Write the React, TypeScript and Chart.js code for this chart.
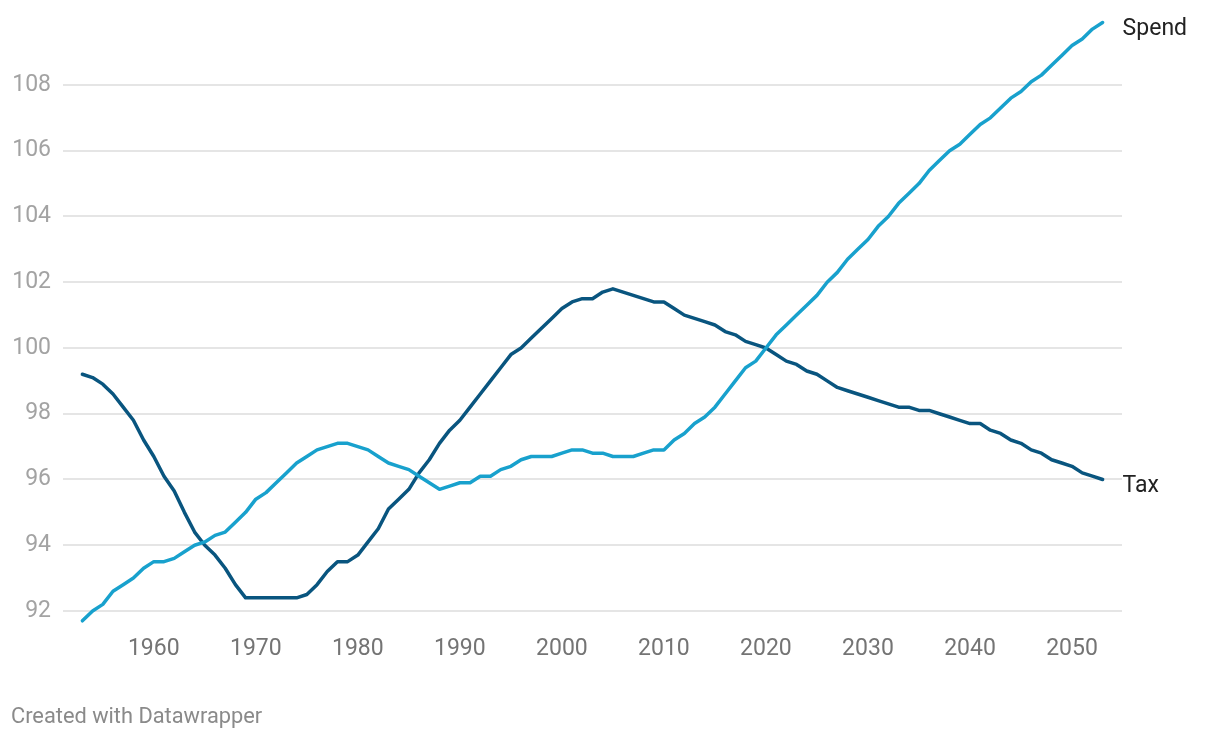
import React, { useEffect, useRef } from "react";
import { Chart, registerables } from "chart.js";

Chart.register(...registerables);

const years: number[] = Array.from({ length: 101 }, (_, i) => 1953 + i);

const spend: number[] = [
  91.7, 92.0, 92.2, 92.6, 92.8, 93.0, 93.3, 93.5, 93.5, 93.6,
  93.8, 94.0, 94.1, 94.3, 94.4, 94.7, 95.0, 95.4, 95.6, 95.9,
  96.2, 96.5, 96.7, 96.9, 97.0, 97.1, 97.1, 97.0, 96.9, 96.7,
  96.5, 96.4, 96.3, 96.1, 95.9, 95.7, 95.8, 95.9, 95.9, 96.1,
  96.1, 96.3, 96.4, 96.6, 96.7, 96.7, 96.7, 96.8, 96.9, 96.9,
  96.8, 96.8, 96.7, 96.7, 96.7, 96.8, 96.9, 96.9, 97.2, 97.4,
  97.7, 97.9, 98.2, 98.6, 99.0, 99.4, 99.6, 100.0, 100.4, 100.7,
  101.0, 101.3, 101.6, 102.0, 102.3, 102.7, 103.0, 103.3, 103.7, 104.0,
  104.4, 104.7, 105.0, 105.4, 105.7, 106.0, 106.2, 106.5, 106.8, 107.0,
  107.3, 107.6, 107.8, 108.1, 108.3, 108.6, 108.9, 109.2, 109.4, 109.7,
  109.9,
];

const tax: number[] = [
  99.2, 99.1, 98.9, 98.6, 98.2, 97.8, 97.2, 96.7, 96.1, 95.65,
  95.0, 94.4, 94.0, 93.7, 93.3, 92.8, 92.4, 92.4, 92.4, 92.4,
  92.4, 92.4, 92.5, 92.8, 93.2, 93.5, 93.5, 93.7, 94.1, 94.5,
  95.1, 95.4, 95.7, 96.2, 96.6, 97.1, 97.5, 97.8, 98.2, 98.6,
  99.0, 99.4, 99.8, 100.0, 100.3, 100.6, 100.9, 101.2, 101.4, 101.5,
  101.5, 101.7, 101.8, 101.7, 101.6, 101.5, 101.4, 101.4, 101.2, 101.0,
  100.9, 100.8, 100.7, 100.5, 100.4, 100.2, 100.1, 100.0, 99.8, 99.6,
  99.5, 99.3, 99.2, 99.0, 98.8, 98.7, 98.6, 98.5, 98.4, 98.3,
  98.2, 98.2, 98.1, 98.1, 98.0, 97.9, 97.8, 97.7, 97.7, 97.5,
  97.4, 97.2, 97.1, 96.9, 96.8, 96.6, 96.5, 96.4, 96.2, 96.1,
  96.0,
];

const xTicks: number[] = [1960, 1970, 1980, 1990, 2000, 2010, 2020, 2030, 2040, 2050];
const yTicks: number[] = [92, 94, 96, 98, 100, 102, 104, 106, 108];
const seriesNames: string[] = ["Spend", "Tax"];
const seriesColors: string[] = ["#18a1cd", "#09557f"];
const footerText = "Created with Datawrapper";

const FONT = "Roboto, 'Noto Sans', sans-serif";

const endLabels = {
  id: "endLabels",
  afterDatasetsDraw(chart: any) {
    const ctx = chart.ctx;
    ctx.save();
    ctx.font = `23px ${FONT}`;
    ctx.fillStyle = "#222222";
    ctx.textAlign = "left";
    ctx.textBaseline = "middle";
    chart.data.datasets.forEach((ds: any, i: number) => {
      const meta = chart.getDatasetMeta(i);
      const pt = meta.data[meta.data.length - 1];
      if (!pt) return;
      ctx.fillText(ds.label, pt.x + 20, pt.y + 6.5);
    });
    ctx.restore();
  },
};

export default function App() {
  const ref = useRef<HTMLCanvasElement | null>(null);

  useEffect(() => {
    if (!ref.current) return;
    const chart = new Chart(ref.current, {
      type: "line",
      data: {
        datasets: [
          {
            label: seriesNames[0],
            data: years.map((y, i) => ({ x: y, y: spend[i] })),
            borderColor: seriesColors[0],
            borderWidth: 3.5,
            pointRadius: 0,
            tension: 0,
            borderJoinStyle: "round",
            borderCapStyle: "round",
          },
          {
            label: seriesNames[1],
            data: years.map((y, i) => ({ x: y, y: tax[i] })),
            borderColor: seriesColors[1],
            borderWidth: 3.5,
            pointRadius: 0,
            tension: 0,
            borderJoinStyle: "round",
            borderCapStyle: "round",
          },
        ],
      },
      options: {
        responsive: false,
        animation: false,
        layout: { padding: { left: 0, right: 98, top: 13, bottom: 0 } },
        plugins: {
          legend: { display: false },
          tooltip: { enabled: false },
        },
        scales: {
          x: {
            type: "linear",
            min: 1951.1,
            max: 2054.9,
            grid: { display: false, drawTicks: false },
            border: { display: false },
            afterBuildTicks: (scale: any) => {
              scale.ticks = xTicks.map((v) => ({ value: v }));
            },
            afterFit: (scale: any) => {
              scale.height = 110.6;
              scale.paddingLeft = 0;
              scale.paddingRight = 0;
            },
            ticks: {
              autoSkip: false,
              maxRotation: 0,
              padding: 8,
              color: "#747474",
              font: { family: FONT, size: 23 },
              callback: (v: any) => String(v),
            },
          },
          y: {
            min: 91.5,
            max: 110.19,
            grid: { color: "#e5e5e5", lineWidth: 2, drawTicks: false },
            border: { display: false },
            afterBuildTicks: (scale: any) => {
              scale.ticks = yTicks.map((v) => ({ value: v }));
            },
            afterFit: (scale: any) => {
              scale.width = 63;
              scale.paddingTop = 0;
              scale.paddingBottom = 0;
            },
            ticks: {
              padding: 12,
              color: "#a3a3a3",
              font: { family: FONT, size: 23 },
              callback: (v: any) => String(v),
            },
          },
        },
      },
      plugins: [endLabels],
    } as any);
    return () => chart.destroy();
  }, []);

  return (
    <div style={{ position: "absolute", left: 0, top: 0, width: 1220, height: 738, background: "#ffffff" }}>
      <canvas ref={ref} width={1220} height={738} style={{ display: "block" }} />
      <div
        style={{
          position: "absolute",
          left: 11,
          top: 703.5,
          fontFamily: FONT,
          fontSize: 21.8,
          lineHeight: "24px",
          color: "#8a8a8a",
          whiteSpace: "nowrap",
        }}
      >
        {footerText}
      </div>
    </div>
  );
}
